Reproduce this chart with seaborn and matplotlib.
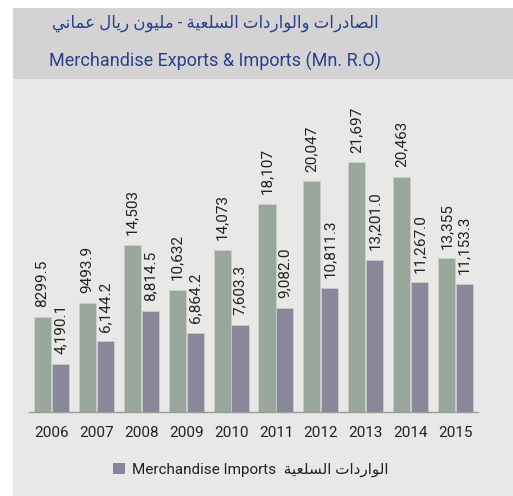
import matplotlib
matplotlib.use("Agg")
import matplotlib.pyplot as plt
from matplotlib.patches import Rectangle, Patch
import seaborn as sns
import pandas as pd

# ---------------- data ----------------
years = ["2006", "2007", "2008", "2009", "2010", "2011", "2012", "2013", "2014", "2015"]
exports = [8299.5, 9493.9, 14503, 10632, 14073, 18107, 20047, 21697, 20463, 13355]
imports = [4190.1, 6144.2, 8814.5, 6864.2, 7603.3, 9082.0, 10811.3, 13201.0, 11267.0, 11153.3]
export_labels = ["8299.5", "9493.9", "14,503", "10,632", "14,073", "18,107", "20,047", "21,697", "20,463", "13,355"]
import_labels = ["4,190.1", "6,144.2", "8,814.5", "6,864.2", "7,603.3", "9,082.0", "10,811.3", "13,201.0", "11,267.0", "11,153.3"]
title_ar = "الصادرات والواردات السلعية - مليون ريال عماني"
title_en = "Merchandise Exports & Imports (Mn. R.O)"
legend_en = "Merchandise Imports"
legend_ar = "الواردات السلعية"

# ------------- minimal Arabic shaping (presentation forms, visual order) -------------
_FORMS = {
    "\u0627": ("\uFE8D", "\uFE8E", None, None),
    "\u062A": ("\uFE95", "\uFE96", "\uFE97", "\uFE98"),
    "\u0629": ("\uFE93", "\uFE94", None, None),
    "\u062F": ("\uFEA9", "\uFEAA", None, None),
    "\u0631": ("\uFEAD", "\uFEAE", None, None),
    "\u0633": ("\uFEB1", "\uFEB2", "\uFEB3", "\uFEB4"),
    "\u0635": ("\uFEB9", "\uFEBA", "\uFEBB", "\uFEBC"),
    "\u0639": ("\uFEC9", "\uFECA", "\uFECB", "\uFECC"),
    "\u0644": ("\uFEDD", "\uFEDE", "\uFEDF", "\uFEE0"),
    "\u0645": ("\uFEE1", "\uFEE2", "\uFEE3", "\uFEE4"),
    "\u0646": ("\uFEE5", "\uFEE6", "\uFEE7", "\uFEE8"),
    "\u0648": ("\uFEED", "\uFEEE", None, None),
    "\u064A": ("\uFEF1", "\uFEF2", "\uFEF3", "\uFEF4"),
}


def shape_ar(text):
    out = []
    n = len(text)
    for i, c in enumerate(text):
        if c not in _FORMS:
            out.append(c)
            continue
        iso, fin, ini, med = _FORMS[c]
        prev = text[i - 1] if i > 0 else None
        nxt = text[i + 1] if i + 1 < n else None
        jp = prev in _FORMS and _FORMS[prev][2] is not None
        jn = ini is not None and nxt in _FORMS
        if jp and jn:
            out.append(med)
        elif jp:
            out.append(fin)
        elif jn:
            out.append(ini)
        else:
            out.append(iso)
    return "".join(reversed(out))


# ---------------- style ----------------
sns.set_theme(style="white")
plt.rcParams["font.family"] = ["Roboto", "DejaVu Sans"]

EXP_C = "#97a89b"
IMP_C = "#86859e"
PANEL = "#e8e8e6"
BAND = "#d4d2d3"
NAVY = "#27418a"
TXT = "#222222"

W, H = 513, 496
fig = plt.figure(figsize=(W / 100, H / 100), dpi=100, facecolor="white")

# background panel and title band
fig.patches.append(Rectangle((13 / W, 0), 1 - 13 / W, 1 - 8 / H, transform=fig.transFigure,
                             facecolor=PANEL, edgecolor="none", zorder=-2))
fig.patches.append(Rectangle((13 / W, 1 - 79 / H), 1 - 13 / W, 71 / H, transform=fig.transFigure,
                             facecolor=BAND, edgecolor="none", zorder=-1))

fig.text(379 / W, 1 - 23 / H, shape_ar(title_ar), ha="right", va="center",
         fontsize=12, color=NAVY)
fig.text(49 / W, 1 - 61 / H, title_en, ha="left", va="center",
         fontsize=13, color=NAVY)

# axes
ax_left, ax_right = 29 / W, 478 / W
ax_bottom, ax_top = 1 - 412 / H, 1 - 85 / H
ax = fig.add_axes([ax_left, ax_bottom, ax_right - ax_left, ax_top - ax_bottom])
ax.set_facecolor("none")

df = pd.DataFrame({
    "year": years * 2,
    "value": exports + imports,
    "series": ["Exports"] * len(years) + ["Imports"] * len(years),
})
sns.barplot(data=df, x="year", y="value", hue="series", order=years,
            hue_order=["Exports", "Imports"],
            palette={"Exports": EXP_C, "Imports": IMP_C},
            width=0.8, gap=0.05, edgecolor="#cfcfcf", linewidth=0.5,
            legend=False, ax=ax)

ax.set_ylim(0, 327 * 86.95)
ax.set_xlim(-0.5, len(years) - 0.5)

# value labels
for cont, labels in zip(ax.containers, [export_labels, import_labels]):
    ax.bar_label(cont, labels=labels, rotation=90, padding=7, fontsize=11, color=TXT)

for s in ["top", "right", "left"]:
    ax.spines[s].set_visible(False)
ax.spines["bottom"].set_color("#9a9a9a")
ax.spines["bottom"].set_linewidth(1.0)
ax.set_yticks([])
ax.set_xlabel("")
ax.set_ylabel("")
ax.tick_params(axis="x", length=0, pad=10, labelsize=11, labelcolor=TXT)

# legend (imports only, as in reference)
handle = Patch(facecolor=IMP_C, edgecolor="none")
fig.legend([handle], [legend_en + "  " + shape_ar(legend_ar)],
           loc="center left", bbox_to_anchor=(113 / W, 1 - 470 / H),
           frameon=False, fontsize=11, handlelength=0.8, handleheight=0.8,
           handletextpad=0.45, borderpad=0, borderaxespad=0, labelcolor=TXT)

fig.savefig("out.png", dpi=100, facecolor="white")
